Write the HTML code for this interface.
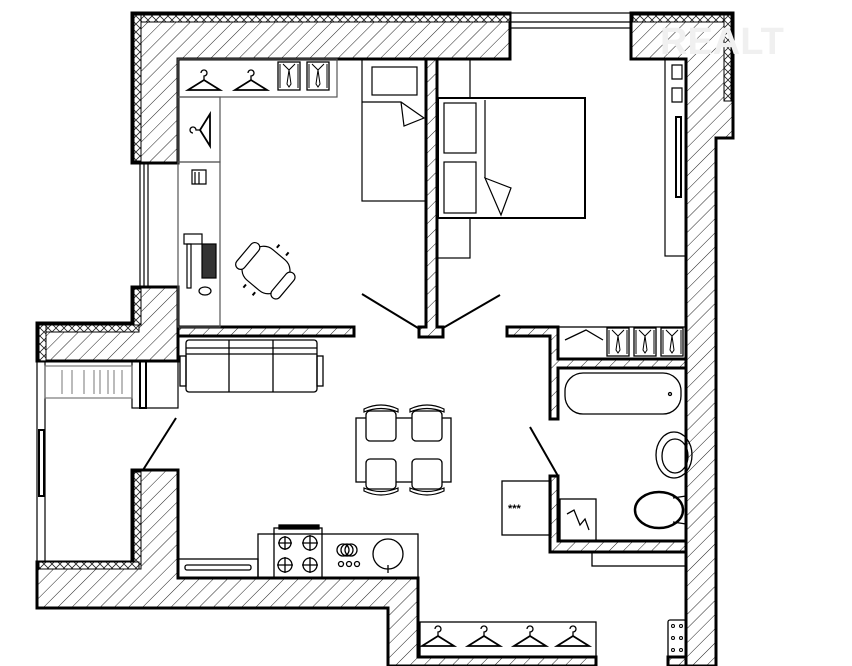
<!DOCTYPE html>
<html><head><meta charset="utf-8"><style>html,body{margin:0;padding:0;background:#fff}svg{display:block}</style></head>
<body>
<svg width="852" height="666" viewBox="0 0 852 666" xmlns="http://www.w3.org/2000/svg" font-family="Liberation Sans, sans-serif">
<defs>
<pattern id="h" width="10" height="10" patternUnits="userSpaceOnUse" patternTransform="rotate(45)">
<rect width="10" height="10" fill="#fff"/><line x1="0" y1="0" x2="0" y2="10" stroke="#222" stroke-width="1"/>
</pattern>
<pattern id="x" width="8" height="8" patternUnits="userSpaceOnUse">
<rect width="8" height="8" fill="#fff"/><path d="M0 0L8 8M8 0L0 8" stroke="#222" stroke-width="0.8"/>
</pattern>
<g id="hg"><path d="M-16 10 L0 0 L16 10 Z" fill="none" stroke="#000" stroke-width="1.8"/><path d="M0 0 V-4 a3 3 0 1 0 -3 -3" fill="none" stroke="#000" stroke-width="1.3"/></g>
<g id="shirt"><rect x="-11" y="-14" width="22" height="28" fill="#fff" stroke="#000" stroke-width="1.3"/><path d="M-6 -12 L0 -6 L6 -12 M0 -6 L-2 8 L0 11 L2 8 Z M-9 -12 L-9 12 M9 -12 L9 12" fill="none" stroke="#000" stroke-width="1"/></g>
<g id="chair"><rect x="0" y="8" width="30" height="30" rx="4" fill="#fff" stroke="#000" stroke-width="1.3"/><path d="M-2 6 Q15 -2 32 6 L32 9 Q15 2 -2 9 Z" fill="#fff" stroke="#000" stroke-width="1.2"/></g>
</defs>

<!-- walls -->
<g stroke="#000" stroke-width="3" stroke-linejoin="miter">
<path d="M132 13 H510 V59 H178 V163 H132 Z" fill="url(#h)"/>
<path d="M631 13 H733 V138 H716 V666 H686 V59 H631 Z" fill="url(#h)"/>
<path d="M132 287 H178 V361 H37 V323 H132 Z" fill="url(#h)"/>
<path d="M132 470 H178 V578 H418 V657 H596 V666 H388 V608 H37 V562 H132 Z" fill="url(#h)"/>
<path d="M178 327 H354 V336 H178 Z" fill="url(#h)"/>
<path d="M426 59 H437 V327 H443 V337 H419 V327 H426 Z" fill="url(#h)"/>
<path d="M507 327 H558 V359 H686 V368 H558 V419 H550 V336 H507 Z" fill="url(#h)"/>
<path d="M550 476 H558 V541 H686 V552 H550 Z" fill="url(#h)"/>
<path d="M668 657 H686 V666 H668 Z" fill="url(#h)"/>
</g>
<!-- insulation strips -->
<g stroke="#000" stroke-width="1">
<rect x="134" y="15" width="376" height="7" fill="url(#x)"/>
<rect x="134" y="15" width="7" height="146" fill="url(#x)"/>
<rect x="633" y="15" width="98" height="7" fill="url(#x)"/>
<rect x="724" y="15" width="7" height="86" fill="url(#x)"/>
<rect x="134" y="289" width="7" height="36" fill="url(#x)"/>
<rect x="39" y="325" width="100" height="7" fill="url(#x)"/>
<rect x="39" y="325" width="7" height="36" fill="url(#x)"/>
<rect x="134" y="472" width="7" height="97" fill="url(#x)"/>
<rect x="39" y="562" width="100" height="7" fill="url(#x)"/>
</g>

<!-- windows -->
<g fill="none" stroke="#000" stroke-width="1.2">
<rect x="510" y="13" width="121" height="15"/><line x1="510" y1="22" x2="631" y2="22"/>
<rect x="140" y="163" width="8" height="124"/><line x1="144" y1="163" x2="144" y2="287"/>
<rect x="37" y="361" width="8" height="201"/><rect x="39" y="430" width="5" height="66" stroke-width="2"/>
<rect x="132" y="361" width="46" height="47"/><rect x="140" y="361" width="6" height="47" stroke-width="2"/>
<rect x="45" y="366" width="87" height="32" stroke="#777"/>
</g>
<g stroke="#777" stroke-width="1">
<path d="M62 370V394M72 370V394M84 370V394M94 370V394M100 370V394M108 370V394M114 370V394M122 370V394"/>
</g>

<!-- door leaves -->
<g stroke="#000" stroke-width="2">
<line x1="362" y1="294" x2="418" y2="328"/><line x1="500" y1="295" x2="443" y2="328"/>
<line x1="176" y1="418" x2="143" y2="470"/><line x1="530" y1="427" x2="558" y2="476"/>
</g>

<!-- bedroom 1 closets -->
<g fill="none" stroke="#000" stroke-width="1.2">
<rect x="178" y="59" width="159" height="38" stroke="#555"/>
<rect x="178" y="97" width="42" height="65" stroke="#555"/>
<rect x="178" y="162" width="42" height="165" stroke="#555"/>
<rect x="362" y="59" width="64" height="142"/><rect x="372" y="67" width="45" height="28"/>
<path d="M362 102 H401 L424 118 L404 126 L401 102"/>
<rect x="438" y="98" width="147" height="120" stroke-width="2"/>
<rect x="437" y="59" width="33" height="39"/><rect x="437" y="218" width="33" height="40"/>
<rect x="444" y="103" width="32" height="50"/><rect x="444" y="162" width="32" height="51"/>
<line x1="485" y1="100" x2="485" y2="178"/><path d="M485 178 L511 188 L501 215 Z"/>
<rect x="665" y="59" width="21" height="197"/><rect x="676" y="117" width="5" height="80" stroke-width="2"/>
</g>
<use href="#hg" x="204" y="80"/><use href="#hg" x="251" y="80"/>
<use href="#shirt" x="289" y="76"/><use href="#shirt" x="318" y="76"/>
<g transform="translate(200 130) rotate(-90)"><use href="#hg"/></g>
<g fill="none" stroke="#000" stroke-width="1.2">
<path d="M192 170h14v14h-14z M195 172v12M199 172v12"/>
<rect x="184" y="234" width="18" height="10"/><rect x="187" y="244" width="4" height="44"/>
<rect x="202" y="244" width="14" height="34" fill="#333"/>
<ellipse cx="205" cy="291" rx="6" ry="4"/>
<g transform="translate(266 270) rotate(40)"><rect x="-22" y="-20" width="44" height="40" rx="14" fill="#fff"/><rect x="-28" y="-15" width="10" height="32" rx="5" fill="#fff"/><rect x="18" y="-15" width="10" height="32" rx="5" fill="#fff"/>
<path d="M-6 -24v-4M6 -24v-4M-6 24v4M6 24v4" stroke-width="2"/></g>
</g>
<g fill="none" stroke="#000" stroke-width="1.2">
<path d="M672 65h10v14h-10zM672 88h10v14h-10z"/>
</g>

<!-- living -->
<g fill="none" stroke="#000" stroke-width="1.3">
<rect x="186" y="340" width="131" height="52" rx="3"/>
<line x1="186" y1="348" x2="317" y2="348"/><line x1="186" y1="354" x2="317" y2="354"/>
<line x1="229" y1="340" x2="229" y2="392"/><line x1="273" y1="340" x2="273" y2="392"/>
<rect x="180" y="356" width="6" height="30"/><rect x="317" y="356" width="6" height="30"/>
<rect x="356" y="418" width="95" height="64"/>
</g>
<use href="#chair" x="366" y="403"/><use href="#chair" x="412" y="403"/>
<g transform="translate(366 497) scale(1,-1)"><use href="#chair"/></g>
<g transform="translate(412 497) scale(1,-1)"><use href="#chair"/></g>

<!-- kitchen -->
<g fill="none" stroke="#000" stroke-width="1.3">
<rect x="178" y="559" width="80" height="19"/><rect x="185" y="565" width="66" height="5" rx="2"/>
<rect x="258" y="534" width="160" height="44"/>
<rect x="274" y="528" width="48" height="50"/><rect x="279" y="525" width="40" height="4" fill="#000"/>
<circle cx="285" cy="543" r="6"/><circle cx="310" cy="543" r="7"/><circle cx="285" cy="565" r="7"/><circle cx="310" cy="565" r="7"/>
<path d="M278 543h14M285 536v14M302 543h16M310 535v16M277 565h16M285 557v16M302 565h16M310 557v16"/>
<circle cx="343" cy="550" r="6"/><circle cx="347" cy="550" r="6"/><circle cx="351" cy="550" r="6"/>
<circle cx="341" cy="564" r="2.5"/><circle cx="349" cy="564" r="2.5"/><circle cx="357" cy="564" r="2.5"/>
<circle cx="388" cy="554" r="15"/><line x1="388" y1="565" x2="388" y2="573"/>
<rect x="502" y="481" width="49" height="54"/>
</g>
<text x="508" y="512" font-size="11" font-weight="bold">***</text>

<!-- bath -->
<g fill="none" stroke="#000" stroke-width="1.3">
<rect x="558" y="327" width="128" height="32"/>
<path d="M565 340 L586 330 L603 340"/>
<rect x="565" y="373" width="116" height="41" rx="18"/>
<circle cx="670" cy="394" r="1.5"/>
<ellipse cx="674" cy="455" rx="18" ry="23"/><ellipse cx="675" cy="456" rx="13" ry="17"/>
<ellipse cx="659" cy="510" rx="24" ry="18" stroke-width="2.5"/>
<path d="M673 498 L686 496 V524 L673 522"/>
<rect x="560" y="499" width="36" height="42"/>
<path d="M567 514 L574 510 L580 525 L585 519 L589 530"/>
<rect x="592" y="552" width="94" height="14"/>
<rect x="420" y="622" width="176" height="35"/>
<rect x="668" y="620" width="18" height="37" rx="2"/>
</g>
<g fill="none" stroke="#000" stroke-width="1"><circle cx="673" cy="626" r="1.5"/><circle cx="681" cy="626" r="1.5"/><circle cx="673" cy="638" r="1.5"/><circle cx="681" cy="638" r="1.5"/><circle cx="673" cy="650" r="1.5"/><circle cx="681" cy="650" r="1.5"/></g>
<use href="#shirt" x="618" y="342"/><use href="#shirt" x="645" y="342"/><use href="#shirt" x="672" y="342"/>
<use href="#hg" x="438" y="636"/><use href="#hg" x="484" y="636"/><use href="#hg" x="530" y="636"/><use href="#hg" x="573" y="636"/>

<text x="660" y="54" font-size="38" font-weight="bold" fill="#f0f0f0">REALT</text>
</svg>
</body></html>
